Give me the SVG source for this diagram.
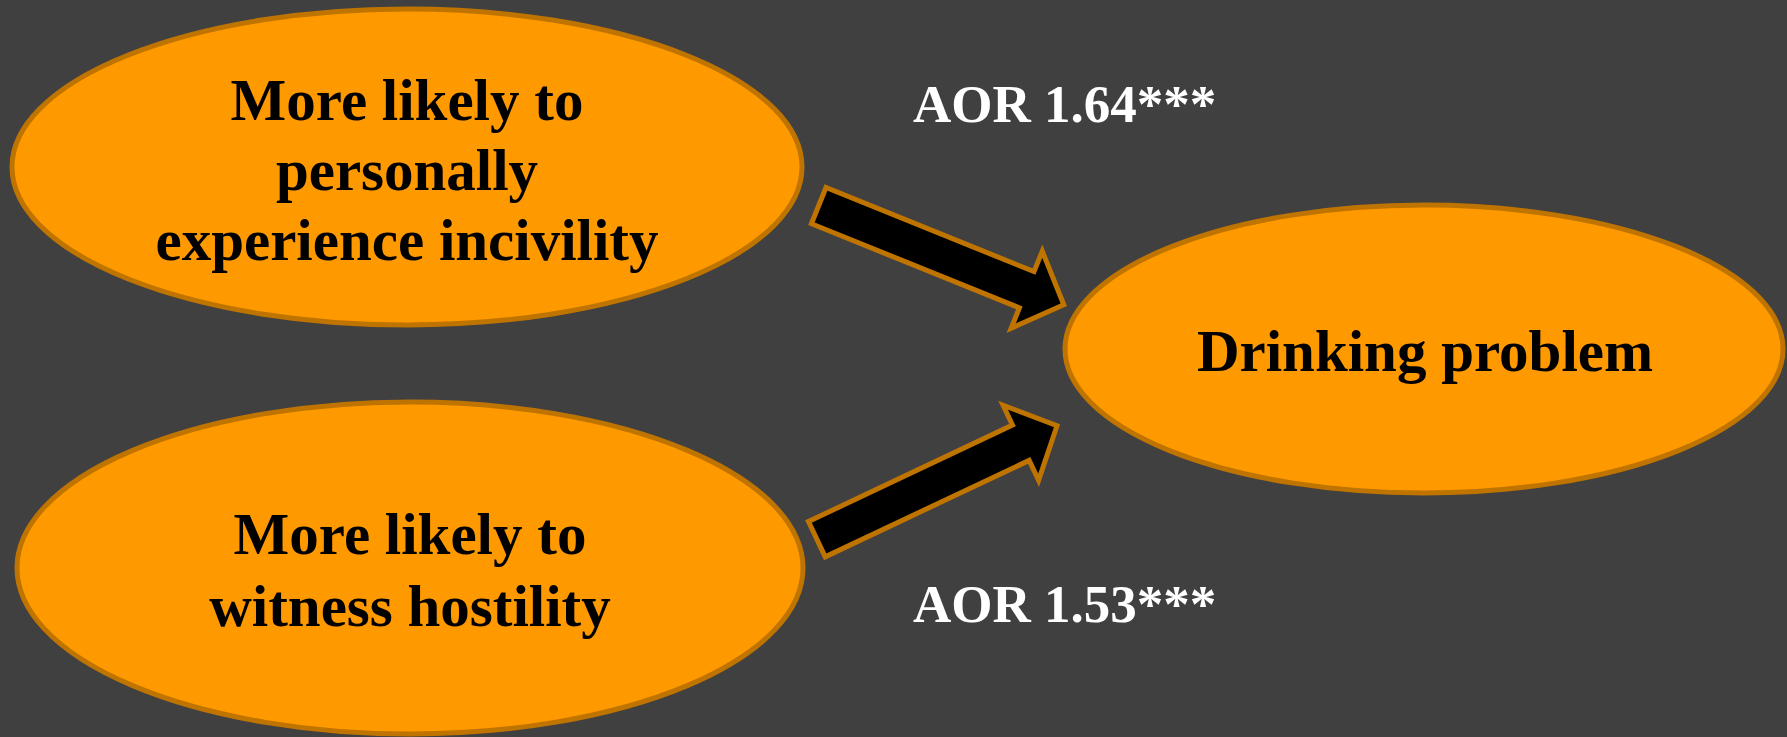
<svg xmlns="http://www.w3.org/2000/svg" width="1787" height="737" viewBox="0 0 1787 737">
  <style>
    .bubble { fill: #FF9900; stroke: #C07400; stroke-width: 5; }
    .label { font-family: "Liberation Serif", "Times New Roman", serif; font-weight: bold; font-size: 59px; fill: #000000; text-anchor: middle; }
    .stat { font-family: "Liberation Serif", "Times New Roman", serif; font-weight: bold; font-size: 53px; fill: #FFFFFF; }
    .arrow { fill: #000000; stroke: #C07400; stroke-width: 5; stroke-linejoin: miter; }
  </style>
  <rect x="0" y="0" width="1787" height="737" fill="#404040"/>

  <g id="node-incivility">
    <ellipse class="bubble" cx="407" cy="167" rx="395" ry="158"/>
    <text class="label" x="407" y="120">More likely to</text>
    <text class="label" x="407" y="190">personally</text>
    <text class="label" x="407" y="260">experience incivility</text>
  </g>

  <g id="node-hostility">
    <ellipse class="bubble" cx="410" cy="568" rx="393" ry="166"/>
    <text class="label" x="410" y="554">More likely to</text>
    <text class="label" x="410" y="626">witness hostility</text>
  </g>

  <g id="node-drinking">
    <ellipse class="bubble" cx="1424" cy="349" rx="359" ry="144"/>
    <text class="label" x="1425" y="371">Drinking problem</text>
  </g>

  <g id="connectors">
    <polygon class="arrow" points="826,187.5 811.4,223.7 1019.4,307.8 1011.2,328.2 1063.8,304.7 1042.3,251.2 1034,271.6"/>
    <polygon class="arrow" points="808.5,521.5 825.2,556.8 1029.2,460.4 1038.6,480.3 1057,425.7 1003.1,405.2 1012.5,425.1"/>
    <text class="stat" x="913" y="122">AOR 1.64***</text>
    <text class="stat" x="913" y="622">AOR 1.53***</text>
  </g>
</svg>
